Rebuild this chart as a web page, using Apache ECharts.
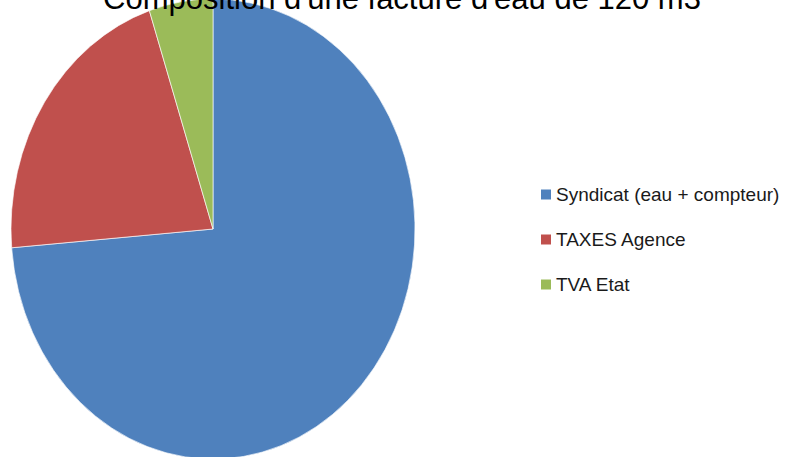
<!DOCTYPE html>
<html>
<head>
<meta charset="utf-8">
<script src="https://cdn.jsdelivr.net/npm/echarts@6/dist/echarts.min.js"></script>
<style>
  html, body { margin: 0; padding: 0; background: #fff; }
  #wrap { position: relative; width: 785px; height: 457px; overflow: hidden; }
  #pie { position: absolute; left: 0; top: 0; width: 785px; height: 457px;
         transform-origin: 213px 229px; transform: scaleY(1.139); }
  #over { position: absolute; left: 0; top: 0; width: 785px; height: 457px; }
</style>
</head>
<body>
<div id="wrap">
  <div id="pie"></div>
  <div id="over"></div>
</div>
<script>
const titleText = "Composition d'une facture d'eau de 120 m3";
const categories = ["Syndicat (eau + compteur)", "TAXES Agence", "TVA Etat"];
const values = [73.7, 21.2, 5.1];
const colors = ["#4F81BD", "#C0504D", "#9BBB59"];

const data = categories.map((c, i) => ({ name: c, value: values[i] }));

const pie = echarts.init(document.getElementById('pie'), null, { renderer: 'svg' });
pie.setOption({
  animation: false,
  color: colors,
  series: [{
    type: 'pie',
    center: [213, 229],
    radius: 202,
    startAngle: 90,
    clockwise: true,
    label: { show: false },
    labelLine: { show: false },
    silent: true,
    itemStyle: { borderColor: '#ffffff', borderWidth: 0.6 },
    data: data
  }]
});

const over = echarts.init(document.getElementById('over'), null, { renderer: 'svg' });
over.setOption({
  animation: false,
  color: colors,
  title: {
    text: titleText,
    left: 397,
    textAlign: 'center',
    top: -22,
    textStyle: { fontFamily: 'Liberation Sans', fontSize: 31, fontWeight: 'normal', color: '#000' }
  },
  legend: {
    orient: 'vertical',
    left: 536,
    top: 180,
    icon: 'rect',
    itemWidth: 10,
    itemHeight: 10,
    itemGap: 26,
    selectedMode: false,
    textStyle: { fontFamily: 'Liberation Sans', fontSize: 19, color: '#1a1a1a' },
    data: categories
  },
  series: [{
    type: 'pie',
    radius: [0, 0],
    center: [-100, -100],
    label: { show: false },
    silent: true,
    data: data
  }]
});
</script>
</body>
</html>
